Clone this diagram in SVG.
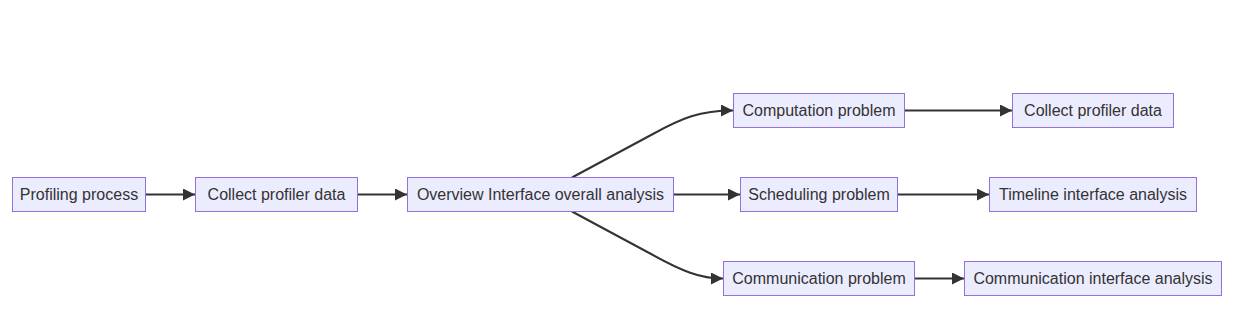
<svg xmlns="http://www.w3.org/2000/svg" width="1255" height="322" viewBox="0 0 1255 322">
<style>
.node rect{fill:#ECECFF;stroke:#9370DB;stroke-width:1}
.node text{font-family:"Liberation Sans",Arial,sans-serif;font-size:16px;fill:#333;text-anchor:middle;dominant-baseline:central}
.edge{fill:none;stroke:#333;stroke-width:2;marker-end:url(#arrow)}
</style>
<defs>
<marker id="arrow" viewBox="0 0 10 10" refX="10" refY="5" markerWidth="12" markerHeight="12" markerUnits="userSpaceOnUse" orient="auto">
<path d="M0,0 L10,5 L0,10 z" fill="#333"/>
</marker>
</defs>
<rect width="1255" height="322" fill="#fff"/>
<g id="connectors">
<path class="edge" d="M145.5,194.5 L195,194.5"/>
<path class="edge" d="M357.5,194.5 L407,194.5"/>
<path class="edge" d="M673.5,194.5 L740,194.5"/>
<path class="edge" d="M572,177.5 L652,134.5 C682,118 700,110.5 733,110.5"/>
<path class="edge" d="M572,211.5 L652,254.5 C682,271 700,278.5 723,278.5"/>
<path class="edge" d="M904.5,110.5 L1012,110.5"/>
<path class="edge" d="M897.5,194.5 L989,194.5"/>
<path class="edge" d="M914.5,278.5 L964,278.5"/>
</g>
<g id="n1" class="node"><rect x="12.5" y="177.5" width="133" height="34"/><text x="79" y="194.5">Profiling process</text></g>
<g id="n2" class="node"><rect x="195.5" y="177.5" width="162" height="34"/><text x="276.5" y="194.5">Collect profiler data</text></g>
<g id="n3" class="node"><rect x="407.5" y="177.5" width="266" height="34"/><text x="540.5" y="194.5">Overview Interface overall analysis</text></g>
<g id="n4" class="node"><rect x="733.5" y="93.5" width="171" height="34"/><text x="819" y="110.5">Computation problem</text></g>
<g id="n5" class="node"><rect x="740.5" y="177.5" width="157" height="34"/><text x="819" y="194.5">Scheduling problem</text></g>
<g id="n6" class="node"><rect x="723.5" y="261.5" width="191" height="34"/><text x="819" y="278.5">Communication problem</text></g>
<g id="n7" class="node"><rect x="1012.5" y="93.5" width="161" height="34"/><text x="1093" y="110.5">Collect profiler data</text></g>
<g id="n8" class="node"><rect x="989.5" y="177.5" width="207" height="34"/><text x="1093" y="194.5">Timeline interface analysis</text></g>
<g id="n9" class="node"><rect x="964.5" y="261.5" width="257" height="34"/><text x="1093" y="278.5">Communication interface analysis</text></g>
</svg>
